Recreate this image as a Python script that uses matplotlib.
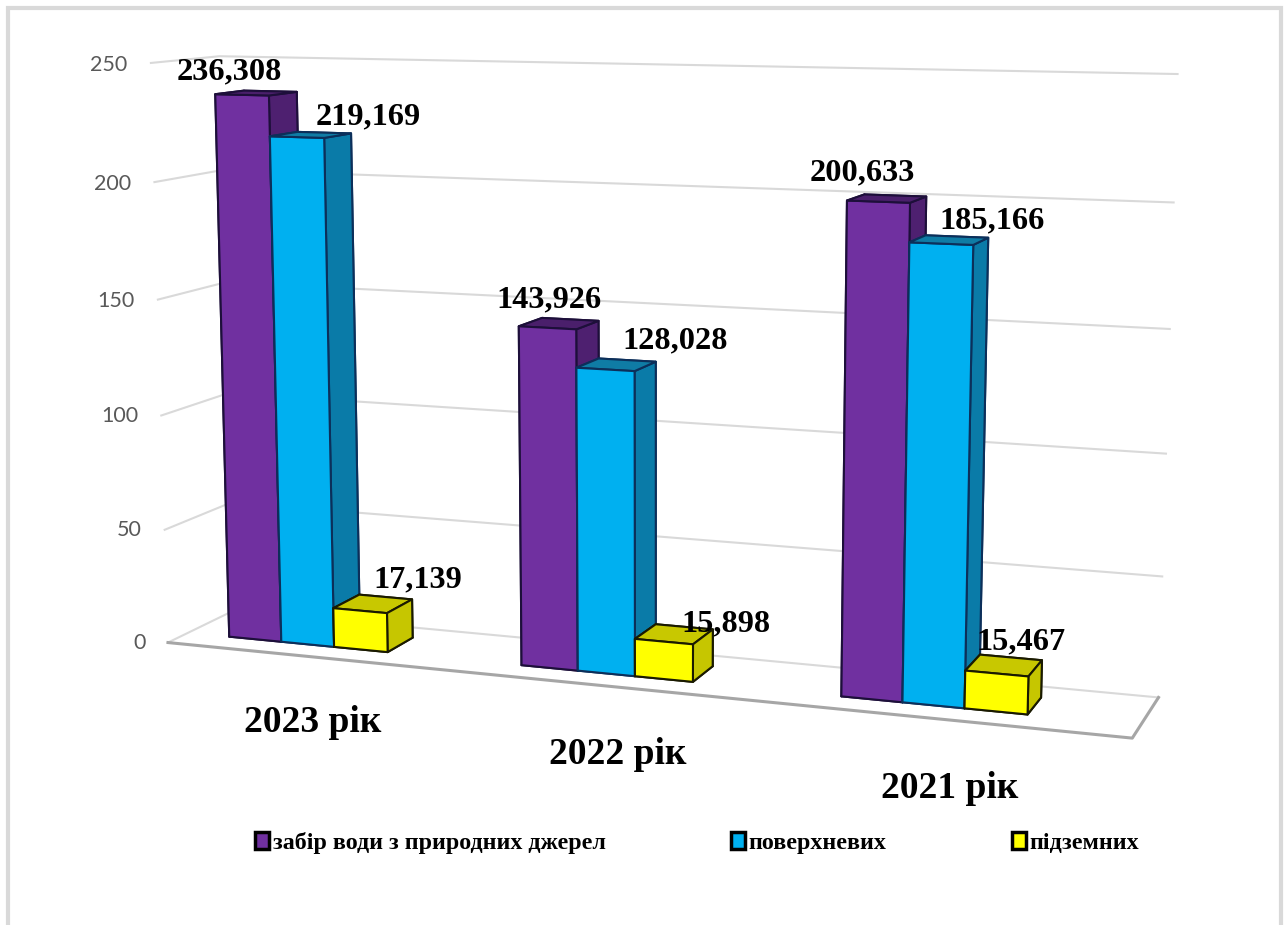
# стовпчики 3D: забір води по роках
import matplotlib
matplotlib.use("Agg")
import matplotlib.pyplot as plt
from matplotlib.patches import Patch, Rectangle
from mpl_toolkits.mplot3d import proj3d

years = ["2023 рік", "2022 рік", "2021 рік"]
series = ["забір води з природних джерел", "поверхневих", "підземних"]
zabir = [236.308, 143.926, 200.633]
poverh = [219.169, 128.028, 185.166]
pidzem = [17.139, 15.898, 15.467]
ticks = [0, 50, 100, 150, 200, 250]

W, H = 1288, 925
SERIF = "Liberation Serif"

fig = plt.figure(figsize=(W / 100, H / 100), dpi=100)

# камера підібрана під референс
ax = fig.add_axes([49.04 / W, -44.83 / H, 1160.29 / W, 1160.29 / H], projection="3d")
ax.set_xlim(0, 3)
ax.set_ylim(0, 1)
ax.set_zlim(0, 250)
ax.view_init(elev=9.387, azim=-70.09, roll=0.035)
ax.set_proj_type("persp", focal_length=0.44268)
ax.set_box_aspect((7.0302, 1, 4.2019))
ax.set_axis_off()
ax.computed_zorder = False

# сітка на стінках і підлога
M = ax.get_proj()
for t in ticks:
    ax.plot([0, 0, 3], [0, 1, 1], [t, t, t], color="#d9d9d9", lw=1.5, zorder=1)
    tx, ty, _ = proj3d.proj_transform(-0.08, 0, t - 1, M)
    ax.text2D(tx, ty, str(t), transform=ax.transData, ha="right", va="center",
              fontsize=15.5, family="Lato", color="#595959")
ax.plot([0, 3, 3], [0, 0, 1], [0, 0, 0], color="#a6a6a6", lw=2.2, zorder=1)

# стовпчики
group_start = [0.145, 1.135, 2.135]
bar_w = 0.182
bar_y = 0.30
bar_d = 0.43
# front, side, top, edge
colors = [("#7030a0", "#4e2070", "#4a1f6b", "#1d0f3a"),
          ("#00b0f0", "#0a7ba8", "#0f7ca5", "#0c2f5a"),
          ("#ffff00", "#c6c600", "#c8c800", "#1a1a00")]
z = 2
for g in range(3):
    for k, vals in enumerate([zabir, poverh, pidzem]):
        front, bok, top, edge = colors[k]
        # порядок граней у bar3d: -Z, +Z, -Y, +Y, -X, +X
        ax.bar3d(group_start[g] + k * bar_w, bar_y, 0, bar_w, bar_d, vals[g],
                 color=[bok, top, front, bok, bok, bok], edgecolor=edge,
                 linewidth=1.5, shade=False, zorder=z)
        z += 1

def px_text(x, y, s, size):
    fig.text(x / W, 1 - y / H, s, ha="center", va="center", fontsize=size,
             fontweight="bold", family=SERIF, color="black")

# підписи значень
label_pos = [(229, 72), (368, 117), (418, 580),
             (549, 300), (675, 341), (726, 624),
             (862, 173), (992, 221), (1021, 642)]
all_vals = [zabir[0], poverh[0], pidzem[0], zabir[1], poverh[1], pidzem[1], zabir[2], poverh[2], pidzem[2]]
for (x, y), v in zip(label_pos, all_vals):
    px_text(x, y, f"{v:.3f}".replace(".", ","), 23.3)

# роки
year_pos = [(313, 723), (618, 755), (950, 788)]
for (x, y), name in zip(year_pos, years):
    px_text(x, y, name, 27)

# легенда
handles = [Patch(facecolor=c[0], edgecolor="black", linewidth=2.5) for c in colors]
fig.legend(handles, series, ncols=3, frameon=False, loc="center",
           bbox_to_anchor=(697 / W, 1 - 843 / H),
           prop={"family": SERIF, "weight": "bold", "size": 17.3},
           handlelength=0.6, handleheight=0.7, handletextpad=0.15, columnspacing=5.2)

# рамка
fig.add_artist(Rectangle((8 / W, -0.05), 1273 / W, 1.05 - 8 / H, transform=fig.transFigure,
                         fill=False, edgecolor="#d9d9d9", linewidth=3))

fig.savefig("out.png", dpi=100)
